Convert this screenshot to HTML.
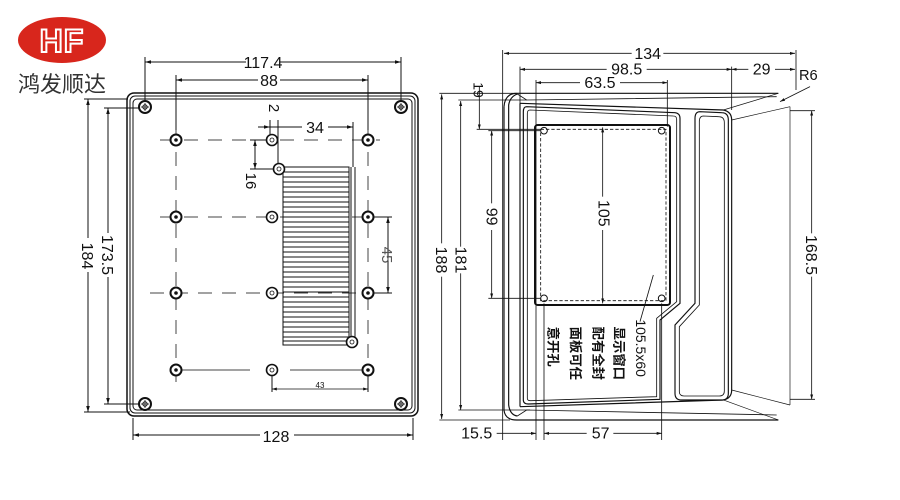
<!DOCTYPE html>
<html><head><meta charset="utf-8"><style>
html,body{margin:0;padding:0;background:#fff;}
svg{display:block;font-family:"Liberation Sans","Noto Sans CJK SC",sans-serif;}
</style></head><body>
<svg width="900" height="500" viewBox="0 0 900 500" xmlns="http://www.w3.org/2000/svg">
<rect width="900" height="500" fill="#fff"/>
<defs>
<marker id="a" viewBox="0 0 10 10" refX="10" refY="5" markerWidth="6" markerHeight="6" orient="auto-start-reverse"><path d="M0,2 L10,5 L0,8z" fill="#111"/></marker>
<g id="scr"><circle r="6" fill="none" stroke="#111" stroke-width="2"/><circle r="2.2" fill="none" stroke="#111" stroke-width="1"/><path d="M-4,0H4M0,-4V4" stroke="#111" stroke-width="0.8"/></g>
<g id="hole"><circle r="5.5" fill="#fff" stroke="#111" stroke-width="2"/><circle r="1.8" fill="#111"/></g>
<g id="hole2"><circle r="5.5" fill="#fff" stroke="#111" stroke-width="1.6"/><circle r="2" fill="none" stroke="#111" stroke-width="0.8"/></g>
</defs>
<!-- logo -->
<ellipse cx="62" cy="40" rx="44" ry="23" fill="#d8261c"/>
<text x="62" y="52" text-anchor="middle" font-size="32" font-weight="bold" fill="#d8261c" stroke="#fff" stroke-width="2" letter-spacing="1">HF</text>
<text x="18" y="92" font-size="22" fill="#333" font-family="'Noto Sans CJK SC',sans-serif">鸿发顺达</text>

<g stroke="#111" fill="none" stroke-width="1">
<!-- left view box -->
<rect x="127" y="93" width="291" height="323" rx="7" stroke-width="1.5"/>
<rect x="130" y="96" width="285" height="317" rx="5"/>
<rect x="133" y="99" width="279" height="311" rx="4"/>
<!-- grid lines -->
<g stroke="#444" stroke-dasharray="14,10">
<path d="M160 140H380M160 217H380M150 293H380"/>
<path d="M176 128V385M368 128V385"/>
</g>
<path d="M176 370H250M290 370H368" stroke="#444"/>
<!-- vent -->
<rect x="283" y="167" width="66" height="178"/>
<g stroke-width="0.9">
<path d="M283 172H349M283 177H349M283 182H349M283 187H349M283 192H349M283 197H349M283 202H349M283 207H349M283 212H349M283 217H349M283 222H349M283 227H349M283 232H349M283 237H349M283 242H349M283 247H349M283 252H349M283 257H349M283 262H349M283 267H349M283 272H349M283 277H349M283 282H349M283 287H349M283 292H349M283 297H349M283 302H349M283 307H349M283 312H349M283 317H349M283 322H349M283 327H349M283 332H349M283 337H349M283 341H349"/>
</g>
<path d="M351 167V340M355 167V340"/>
<!-- dims left -->
<path d="M145 62H401" marker-start="url(#a)" marker-end="url(#a)"/>
<path d="M145 57V100M401 57V100"/>
<path d="M176 80H368" marker-start="url(#a)" marker-end="url(#a)"/>
<path d="M176 75V130M368 75V130"/>
<path d="M266 127H353" marker-end="url(#a)"/><path d="M258 127H270" marker-end="url(#a)"/>
<path d="M270 120V135M278 120V165M353 122V167"/>
<path d="M255 140V169" marker-start="url(#a)" marker-end="url(#a)"/>
<path d="M250 140H272M250 169H275"/>
<path d="M388 217V293" marker-start="url(#a)" marker-end="url(#a)"/>
<path d="M372 217H392M372 293H392"/>
<path d="M272 389H368" marker-start="url(#a)" marker-end="url(#a)" stroke-width="0.8"/>
<path d="M272 375V392M368 375V392"/>
<path d="M88 99V412" marker-start="url(#a)" marker-end="url(#a)"/>
<path d="M84 99H128M84 412H130"/>
<path d="M108 108V404" marker-start="url(#a)" marker-end="url(#a)"/>
<path d="M104 108H140M104 404H140"/>
<path d="M133 435H413" marker-start="url(#a)" marker-end="url(#a)"/>
<path d="M133 418V440M413 418V440"/>
</g>
<g>
<use href="#scr" x="145" y="107"/><use href="#scr" x="401" y="107"/>
<use href="#scr" x="145" y="404"/><use href="#scr" x="401" y="404"/>
<use href="#hole" x="176" y="140"/><use href="#hole2" x="272" y="140"/><use href="#hole" x="368" y="140"/>
<use href="#hole" x="176" y="217"/><use href="#hole2" x="272" y="217"/><use href="#hole" x="368" y="217"/>
<use href="#hole" x="176" y="293"/><use href="#hole2" x="272" y="293"/><use href="#hole" x="368" y="293"/>
<use href="#hole" x="176" y="370"/><use href="#hole2" x="272" y="370"/><use href="#hole" x="368" y="370"/>
<use href="#hole2" x="279" y="169"/><use href="#hole2" x="352" y="342"/>
</g>
<g font-size="16" fill="#111" text-anchor="middle">
<rect x="246" y="53" width="34" height="16" fill="#fff"/><text x="263" y="68">117.4</text>
<rect x="258" y="71" width="22" height="16" fill="#fff"/><text x="269" y="86">88</text>
<rect x="302" y="119" width="26" height="16" fill="#fff"/><text x="315" y="133">34</text>
<text transform="translate(269,108) rotate(90)" font-size="15">2</text>
<text transform="translate(246,181) rotate(90)" font-size="15">16</text>
<text transform="translate(382,255) rotate(90)" font-size="15" fill="#555">45</text>
<text x="320" y="388" font-size="8">43</text>
<rect x="80" y="238" width="16" height="34" fill="#fff"/><text transform="translate(82,256) rotate(90)">184</text>
<rect x="100" y="233" width="16" height="44" fill="#fff"/><text transform="translate(102,255) rotate(90)">173.5</text>
<rect x="260" y="428" width="34" height="16" fill="#fff"/><text x="276" y="442">128</text>
</g>

<!-- right view in zoom coords -->
<g transform="translate(430,40) scale(0.33333)">
<g stroke="#111" fill="none" stroke-width="3.5">
<!-- outer body -->
<path d="M222 200 Q225 160 260 160 H1045" />
<path d="M222 200 V1110 Q225 1140 260 1140 H1045"/>
<path d="M262 162 Q240 170 236 195 V1095 Q240 1125 262 1128"/>
<path d="M262 162 L290 180 L1040 170" stroke-width="2.5"/>
<path d="M262 1128 L290 1110 L1040 1125" stroke-width="2.5"/>
<path d="M270 190 L880 210 Q905 215 905 240 V1050 Q905 1075 880 1080 L270 1100"/>
<path d="M270 190 V1100"/>
<path d="M290 200 Q280 200 280 215 V1080 Q280 1092 295 1092 L690 1078 V840 L750 790 V235 Q750 220 735 218 Z"/>
<path d="M300 210 Q292 210 292 220 V1075 Q292 1082 302 1082 L680 1070 V835 L740 785 V238 Q740 228 730 228 Z" stroke-width="2.5"/>
<path d="M810 215 Q795 215 795 235 V790 L735 855 V1060 Q735 1080 755 1080 H875 Q895 1080 895 1060 V240 Q895 218 875 218 Z"/>
<path d="M820 228 Q808 228 808 245 V795 L748 860 V1055 Q748 1068 762 1068 H868 Q883 1068 883 1053 V248 Q883 230 866 230 Z" stroke-width="2.5"/>
<!-- flare right -->
<path d="M905 240 L1080 200 M905 1050 L1080 1095 M1080 200 V1095" stroke-width="2"/>
<path d="M1045 160 L880 210 M1045 1140 L880 1080" stroke-width="2"/>
<!-- display window -->
<rect x="315" y="255" width="405" height="540" stroke-width="6" rx="8"/>
<rect x="332" y="268" width="376" height="514" stroke-dasharray="10,6" stroke-width="2.5"/>
<g stroke-width="3">
<circle cx="342" cy="272" r="10"/><circle cx="695" cy="272" r="10"/>
<circle cx="342" cy="775" r="10"/><circle cx="695" cy="775" r="10"/>
</g>
<!-- dims -->
<g stroke-width="2.5">
<path d="M222 40H1095" marker-start="url(#a)" marker-end="url(#a)"/>
<path d="M218 30V1200M1098 30V150"/>
<path d="M270 88H905" marker-start="url(#a)" marker-end="url(#a)"/>
<path d="M905 88H1095" marker-start="url(#a)" marker-end="url(#a)"/>
<path d="M270 80V200M905 80V210"/>
<path d="M318 128H712" marker-start="url(#a)" marker-end="url(#a)"/>
<path d="M318 120V1200M712 120V260"/>
<path d="M148 140V268" marker-end="url(#a)"/><path d="M140 268H335"/>
<path d="M185 272V775" marker-start="url(#a)" marker-end="url(#a)"/>
<path d="M175 272H330M175 775H330"/>
<path d="M518 262V790" marker-start="url(#a)" marker-end="url(#a)"/>
<path d="M35 163V1137" marker-start="url(#a)" marker-end="url(#a)"/>
<path d="M28 160H260M28 1140H240"/>
<path d="M92 183V1110" marker-start="url(#a)" marker-end="url(#a)"/>
<path d="M85 180H290M85 1110H300"/>
<path d="M1145 212V1078" marker-start="url(#a)" marker-end="url(#a)"/>
<path d="M1080 212H1155M1080 1078H1155"/>
<path d="M200 1180H318" marker-end="url(#a)"/>
<path d="M342 1180H695" marker-start="url(#a)" marker-end="url(#a)"/>
<path d="M342 790V1200M695 790V1200"/>
<path d="M1140 140 L1050 185" marker-end="url(#a)"/>
<path d="M670 705 L630 845"/>
</g>
</g>
<g font-size="48" fill="#111" text-anchor="middle">
<rect x="605" y="18" width="95" height="46" fill="#fff"/><text x="653" y="57">134</text>
<rect x="530" y="66" width="120" height="46" fill="#fff"/><text x="590" y="104">98.5</text>
<rect x="955" y="66" width="80" height="46" fill="#fff"/><text x="995" y="104">29</text>
<rect x="450" y="106" width="120" height="46" fill="#fff"/><text x="510" y="144">63.5</text>
<text x="1135" y="120" font-size="44">R6</text>
<text transform="translate(130,150) rotate(90)" font-size="42">19</text>
<rect x="160" y="490" width="50" height="80" fill="#fff"/><text transform="translate(170,530) rotate(90)">99</text>
<rect x="495" y="470" width="50" height="100" fill="#fff"/><text transform="translate(505,520) rotate(90)">105</text>
<rect x="10" y="610" width="50" height="100" fill="#fff"/><text transform="translate(18,660) rotate(90)">188</text>
<rect x="67" y="620" width="50" height="80" fill="#fff"/><text transform="translate(76,660) rotate(90)">181</text>
<rect x="1120" y="580" width="50" height="130" fill="#fff"/><text transform="translate(1128,645) rotate(90)">168.5</text>
<text x="140" y="1195">15.5</text>
<rect x="470" y="1158" width="80" height="46" fill="#fff"/><text x="512" y="1195">57</text>
</g>
<g font-size="40" fill="#111" font-weight="bold" font-family="'Noto Sans CJK SC',sans-serif">
<text transform="translate(618,838) rotate(90)" font-family="'Liberation Sans',sans-serif" font-weight="normal" font-size="42">105.5x60</text>
<text transform="translate(553,860) rotate(90)">显示窗口</text>
<text transform="translate(490,860) rotate(90)">配有全封</text>
<text transform="translate(423,860) rotate(90)">面板可任</text>
<text transform="translate(356,860) rotate(90)">意开孔</text>
</g>
</g>
</svg>
</body></html>
